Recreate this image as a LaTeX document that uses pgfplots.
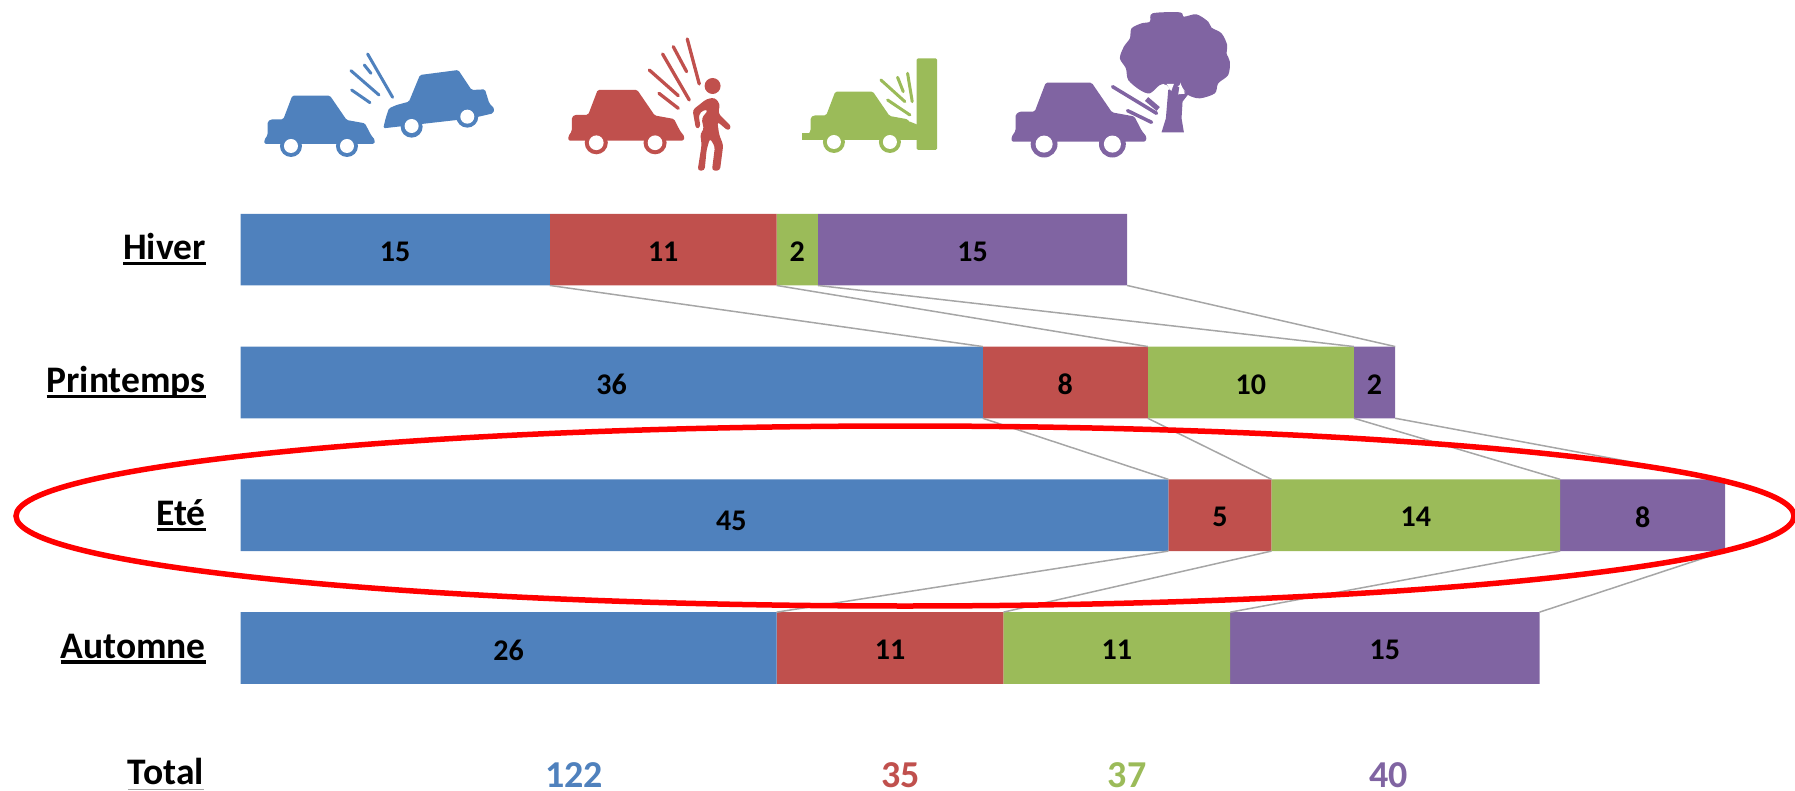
\documentclass[border=0pt]{standalone}
\usepackage{fontspec}
\setmainfont{Carlito}
\usepackage{pgfplots}
\pgfplotsset{compat=1.18}
\definecolor{cblue}{HTML}{4F81BD}
\definecolor{cred}{HTML}{C0504D}
\definecolor{cgreen}{HTML}{9BBB59}
\definecolor{cpurple}{HTML}{8064A2}
\definecolor{cline}{HTML}{A6A6A6}

\newcommand\ul[1]{\setbox0\hbox{#1}\rlap{\rule[-5.5pt]{\wd0}{3.2pt}}\box0}
\newcommand\ulgray[1]{\setbox0\hbox{#1}\rlap{\textcolor{cline}{\rule[-5.5pt]{\wd0}{1.5pt}}}\box0}

% car icon: colour, left end of the bumper, base line, scale
\newcommand\car[4]{%
  \begin{scope}[shift={(#2,#3)},scale=#4]
    \fill[#1,rounded corners=1.5pt] (0,0) -- (0,-12) -- (10,-27) -- (10,-67) -- (20,-74) -- (57,-74) -- (84,-145)
      -- (197,-145) -- (247,-72) -- (302,-62) -- (320,-27) -- (332,-12) -- (330,0) -- cycle;
    \fill[#1] (80,6) circle (33);
    \fill[#1] (248,6) circle (33);
    \fill[white] (80,6) circle (21);
    \fill[white] (248,6) circle (21);
  \end{scope}}

\pgfplotsset{
  base/.style={
    scale only axis,
    width=1554.5pt,
    height=791pt,
    at={(240.5pt,0pt)},
    anchor=north west,
    xmin=0, xmax=75.39,
    ymin=-1.8795, ymax=4.0768,
    y dir=reverse,
    clip=false,
  },
  vals/.style={
    draw=none, mark=none, forget plot,
    point meta=explicit symbolic,
    nodes near coords,
    nodes near coords align={center},
  },
  totals/.style={
    vals,
    every node near coord/.append style={font=\fontsize{38}{40}\selectfont\bfseries,text=#1,yshift=2pt,inner sep=0pt},
  },
}

\begin{document}
\begin{tikzpicture}
\useasboundingbox (0,0) rectangle (1795pt,-791pt);

\begin{axis}[
    base,
    xbar stacked,
    bar width=71.7pt,
    axis line style={draw=none},
    major tick length=0pt,
    xtick=\empty,
    ytick={0,1,2,3,3.956},
    yticklabels={\ul{Hiver},\ul{Printemps},\ul{Eté},\ul{Automne},\ulgray{Total}\hspace*{2pt}},
    yticklabel style={anchor=base east, inner sep=0pt, xshift=-34.5pt, yshift=-10pt,
      font=\fontsize{37.5}{40}\selectfont\bfseries},
]
    \addplot[draw=none,fill=cblue] coordinates {(15,0) (36,1) (45,2) (26,3)};
    \addplot[draw=none,fill=cred] coordinates {(11,0) (8,1) (5,2) (11,3)};
    \addplot[draw=none,fill=cgreen] coordinates {(2,0) (10,1) (14,2) (11,3)};
    \addplot[draw=none,fill=cpurple] coordinates {(15,0) (2,1) (8,2) (15,3)};
\end{axis}

\begin{axis}[
    base,
    hide axis,
    unbounded coords=jump,
    every node near coord/.append style={font=\fontsize{30}{32}\selectfont\bfseries, text=black, yshift=-2pt},
]
    % connectors between the running totals of neighbouring rows
    \addplot[cline,line width=1.5pt,mark=none,forget plot] coordinates {
      (15,0.27) (36,0.73) (nan,nan) (26,0.27) (44,0.73) (nan,nan)
      (28,0.27) (54,0.73) (nan,nan) (43,0.27) (56,0.73) (nan,nan)
      (36,1.27) (45,1.73) (nan,nan) (44,1.27) (50,1.73) (nan,nan)
      (54,1.27) (64,1.73) (nan,nan) (56,1.27) (72,1.73) (nan,nan)
      (45,2.27) (26,2.73) (nan,nan) (50,2.27) (37,2.73) (nan,nan)
      (64,2.27) (48,2.73) (nan,nan) (72,2.27) (63,2.73)};
    % segment values
    \addplot[vals] coordinates {
      (7.5,0) [15] (20.5,0) [11] (27,0) [2] (35.5,0) [15]
      (18,1) [36] (40,1) [8] (49,1) [10] (55,1) [2]
      (23.8,2.03) [45] (47.5,2) [5] (57,2) [14] (68,2) [8]
      (13,3) [26] (31.5,3) [11] (42.5,3) [11] (55.5,3) [15]};
    % totals
    \addplot[totals=cblue] coordinates {(16.17,3.96) [122]};
    \addplot[totals=cred] coordinates {(32,3.96) [35]};
    \addplot[totals=cgreen] coordinates {(43,3.96) [37]};
    \addplot[totals=cpurple] coordinates {(55.67,3.96) [40]};
\end{axis}

% highlight round the summer row
\draw[red,line width=5.5pt] (905pt,-516pt) ellipse (889pt and 90pt);

% icon row, each icon in coordinates of a 3x crop
\begin{scope}[x=0.3333pt,y=-0.3333pt,line cap=round]
  % two cars
  \begin{scope}[shift={(765,120)}]
    \car{cblue}{28}{312}{1}
    \fill[cblue,rounded corners=1.5pt] (385,265) -- (392,235) -- (402,205) -- (425,195) -- (462,185) -- (495,105)
      -- (610,90) -- (650,150) -- (690,148) -- (703,190) -- (718,205) -- (715,220) -- (650,235) -- cycle;
    \fill[cblue] (470,260) circle (33);
    \fill[cblue] (637,230) circle (33);
    \fill[white] (470,258) circle (21);
    \fill[white] (637,230) circle (21);
    \draw[cblue,line width=3pt] (338,42) -- (413,172) (328,75) -- (348,100) (288,92) -- (372,165) (290,150) -- (345,188);
  \end{scope}
  % pedestrian
  \begin{scope}[shift={(1680,90)}]
    \car{cred}{25}{332}{1.05}
    \draw[cred,line width=3.3pt] (382,27) -- (418,162) (340,50) -- (380,125) (308,72) -- (388,210)
      (268,120) -- (355,197) (297,190) -- (355,235);
    \fill[cred] (458,168) circle (24);
    \fill[cred,rounded corners=3pt] (398,240) -- (440,207) -- (465,203) -- (480,222) -- (475,250) -- (515,290)
      -- (505,303) -- (472,275) -- (478,315) -- (490,345) -- (480,422) -- (456,422) -- (465,350) -- (450,325)
      -- (440,360) -- (434,422) -- (413,422) -- (425,345) -- (421,310) -- (432,300) -- (425,265) -- (445,240)
      -- (430,240) -- (416,255) -- (422,292) -- (408,297) -- cycle;
  \end{scope}
  % wall
  \begin{scope}[shift={(2385,150)}]
    \car{cgreen}{37}{270}{1}
    \fill[cgreen] (20,250) rectangle (60,270);
    \fill[cgreen] (300,215) -- (345,215) -- (370,225) -- (370,270) -- (320,270) -- cycle;
    \fill[cgreen,rounded corners=1.5pt] (365,25) rectangle (427,300);
    \draw[cgreen,line width=3pt] (338,70) -- (352,155) (308,82) -- (325,125) (258,90) -- (330,155) (278,150) -- (345,195);
  \end{scope}
  % tree
  \begin{scope}[shift={(3000,15)}]
    \car{cpurple}{35}{410}{1.22}
    \fill[cpurple] plot[smooth cycle,tension=0.5] coordinates {(450,50) (458,25) (540,22) (552,35) (590,28) (625,50) (635,68) (665,85)
      (682,120) (680,145) (690,170) (685,210) (655,235) (645,265) (600,280) (565,270) (540,240) (520,260)
      (500,240) (480,240) (450,265) (420,255) (385,225) (378,190) (360,160) (372,125) (390,100) (395,70) (425,55)};
    \fill[cpurple] (505,255) -- (498,340) -- (485,382) -- (552,382) -- (545,340) -- (548,290) -- (565,268) -- (535,245) -- cycle;
    \fill[white] (482,240) -- (492,237) -- (492,250) -- cycle;
    \fill[white] (500,237) -- (522,237) -- (514,258) -- cycle;
    \fill[white] (541,233) -- (555,266) -- (535,268) -- cycle;
    \draw[cpurple,line width=3.5pt] (338,245) -- (470,325) (383,317) -- (455,352);
    \draw[cpurple,line width=5pt,line cap=butt] (440,282) -- (475,312);
  \end{scope}
\end{scope}
\end{tikzpicture}
\end{document}
